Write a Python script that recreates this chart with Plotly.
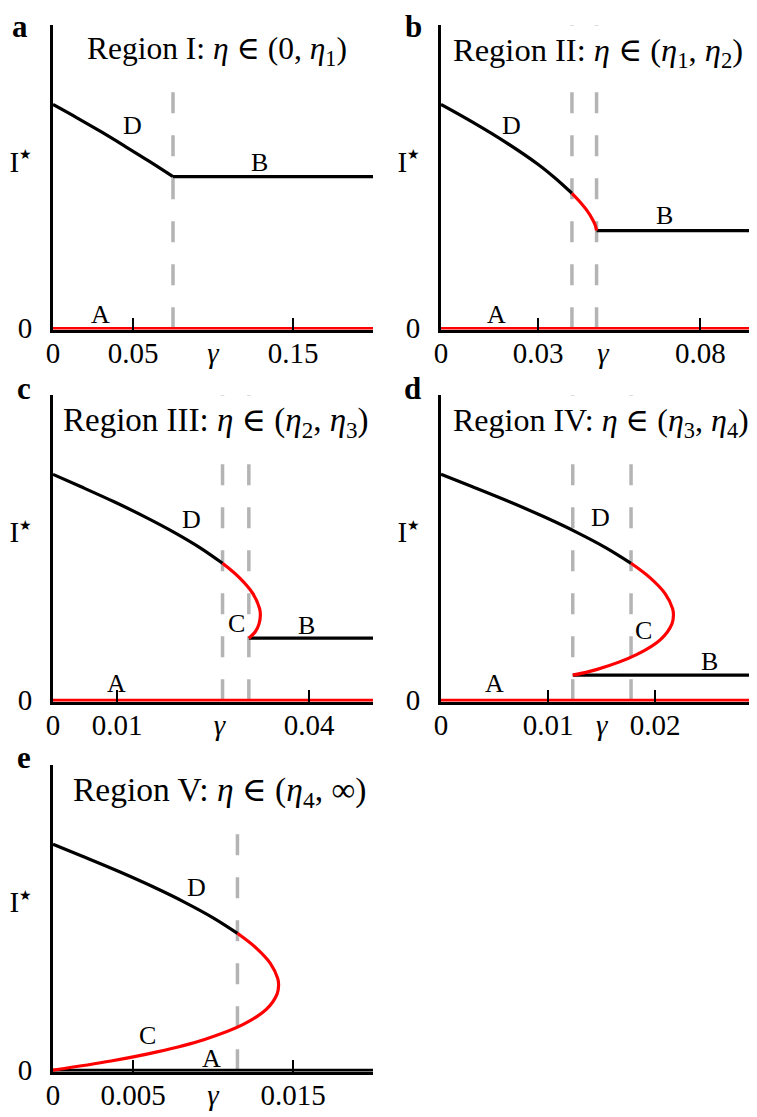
import plotly.graph_objects as go

# ---------------- data ----------------
# Panel a : Region I
a_D_g = [0, 0.015, 0.030, 0.045, 0.060, 0.075]
a_D_I = [0.738, 0.694, 0.648, 0.600, 0.551, 0.500]
a_B_g = [0.075, 0.2]
a_B_I = [0.500, 0.500]
a_A_g = [0, 0.2]
a_A_I = [0, 0]
a_dash = [0.075]

# Panel b : Region II
b_D_g = [0, 0.010, 0.020, 0.030, 0.035, 0.0404]
b_D_I = [0.738, 0.678, 0.613, 0.540, 0.497, 0.445]
b_U_g = [0.0404, 0.0425, 0.0450, 0.0468, 0.0476, 0.0480]
b_U_I = [0.445, 0.421, 0.3885, 0.358, 0.3396, 0.322]
b_B_g = [0.0480, 0.0975]
b_B_I = [0.322, 0.322]
b_A_g = [0, 0.0975]
b_A_I = [0, 0]
b_dash = [0.0404, 0.0480]

# Panel c : Region III
c_D_g = [0, 0.004306, 0.009552, 0.014444, 0.018928, 0.022939, 0.02649]
c_D_I = [0.740, 0.700, 0.650, 0.600, 0.550, 0.500, 0.4485]
c_U_g = [0.02649, 0.029196, 0.031211, 0.03228, 0.0324, 0.032193, 0.03163, 0.0306]
c_U_I = [0.4485, 0.400, 0.350, 0.300, 0.278, 0.250, 0.225, 0.203]
c_B_g = [0.0306, 0.05]
c_B_I = [0.203, 0.203]
c_A_g = [0, 0.05]
c_A_I = [0, 0]
c_dash = [0.02649, 0.0306]

# Panel d : Region IV
d_D_g = [0, 0.002884, 0.006397, 0.009674, 0.012677, 0.015364, 0.017742]
d_D_I = [0.740, 0.700, 0.650, 0.600, 0.550, 0.500, 0.4485]
d_U_g = [0.017742, 0.019554, 0.020904, 0.02162, 0.0217, 0.021561, 0.020541, 0.018304, 0.014506, 0.0123]
d_U_I = [0.4485, 0.400, 0.350, 0.300, 0.278, 0.250, 0.200, 0.150, 0.100, 0.082]
d_B_g = [0.0123, 0.0295]
d_B_I = [0.082, 0.082]
d_A_g = [0, 0.0295]
d_A_I = [0, 0]
d_dash = [0.0123, 0.017742]

# Panel e : Region V
e_D_g = [0, 0.001874, 0.004157, 0.006286, 0.008237, 0.009983, 0.011528]
e_D_I = [0.740, 0.700, 0.650, 0.600, 0.550, 0.500, 0.4485]
e_U_g = [0.011528, 0.012706, 0.013583, 0.014048, 0.0141, 0.01401, 0.013347, 0.011893, 0.009426, 0.006507, 0.003622, 0]
e_U_I = [0.4485, 0.400, 0.350, 0.300, 0.278, 0.250, 0.200, 0.150, 0.100, 0.060, 0.030, 0]
e_A_g = [0, 0.02]
e_A_I = [0, 0]
e_dash = [0.011528]

# tick labels
a_tickvals = [0, 0.05, 0.1, 0.15]
a_ticktext = ["0", "0.05", "<i>γ</i>", "0.15"]
a_tickmarks = [0.05, 0.15]
b_tickvals = [0, 0.03, 0.05, 0.08]
b_ticktext = ["0", "0.03", "<i>γ</i>", "0.08"]
b_tickmarks = [0.03, 0.08]
c_tickvals = [0, 0.01, 0.026, 0.04]
c_ticktext = ["0", "0.01", "<i>γ</i>", "0.04"]
c_tickmarks = [0.01, 0.04]
d_tickvals = [0, 0.01, 0.015, 0.02]
d_ticktext = ["0", "0.01", "<i>γ</i>", "0.02"]
d_tickmarks = [0.01, 0.02]
e_tickvals = [0, 0.005, 0.01, 0.015]
e_ticktext = ["0", "0.005", "<i>γ</i>", "0.015"]
e_tickmarks = [0.005, 0.015]
y_tickvals = [0, 0.55]
y_ticktext = ["0", "I<sup><span style='font-size:14px'>★</span></sup>"]

titles = [
    "Region I: <i>η</i> ∈ (0, <i>η</i><sub>1</sub>)",
    "Region II: <i>η</i> ∈ (<i>η</i><sub>1</sub>, <i>η</i><sub>2</sub>)",
    "Region III: <i>η</i> ∈ (<i>η</i><sub>2</sub>, <i>η</i><sub>3</sub>)",
    "Region IV: <i>η</i> ∈ (<i>η</i><sub>3</sub>, <i>η</i><sub>4</sub>)",
    "Region V: <i>η</i> ∈ (<i>η</i><sub>4</sub>, ∞)",
]
title_sizes = [31.5, 32.5, 33, 32, 33.5]
panel_letters = ["a", "b", "c", "d", "e"]

# branch labels (text, gamma, I)
a_labels = [("D", 0.0495, 0.667), ("B", 0.129, 0.547), ("A", 0.0298, 0.044)]
b_labels = [("D", 0.0216, 0.667), ("B", 0.0689, 0.372), ("A", 0.0170, 0.044)]
c_labels = [("D", 0.0216, 0.593), ("C", 0.0287, 0.251), ("B", 0.0396, 0.245), ("A", 0.0099, 0.055)]
d_labels = [("D", 0.01489, 0.598), ("C", 0.0189, 0.229), ("B", 0.02508, 0.126), ("A", 0.00498, 0.055)]
e_labels = [("D", 0.00899, 0.598), ("C", 0.00588, 0.115), ("A", 0.00992, 0.039)]

# ---------------- layout geometry ----------------
OFF = 8                      # page body margin of the browser
PAGE_W, PAGE_H = 757, 1117
W, H = PAGE_W - OFF, PAGE_H - OFF
FONT = "Liberation Serif, DejaVu Serif, serif"
BLACK = "#000000"
RED = "#ff0000"
GREY = "#b4b4b4"

def fx(px):
    return (px - OFF) / W

def fy(py):
    return 1 - (py - OFF) / H

col_dom = {0: [fx(53), fx(373)], 1: [fx(441), 1.0]}
row_dom = {0: [fy(330), fy(25)], 1: [fy(702), fy(395)], 2: [fy(1072), fy(765)]}

# panel letter positions: (x centre, y, vertical anchor)
panels = [
    dict(row=0, col=0, xr=[0, 0.2], D=(a_D_g, a_D_I), U=None, B=(a_B_g, a_B_I), A=(a_A_g, a_A_I, RED),
         dash=a_dash, tv=a_tickvals, tt=a_ticktext, tm=a_tickmarks, labels=a_labels,
         title_left=86, title_y=51, letter=(20, 8, "top")),
    dict(row=0, col=1, xr=[0, 0.0975], D=(b_D_g, b_D_I), U=(b_U_g, b_U_I), B=(b_B_g, b_B_I), A=(b_A_g, b_A_I, RED),
         dash=b_dash, tv=b_tickvals, tt=b_ticktext, tm=b_tickmarks, labels=b_labels,
         title_left=452, title_y=52, letter=(414, 8, "top")),
    dict(row=1, col=0, xr=[0, 0.05], D=(c_D_g, c_D_I), U=(c_U_g, c_U_I), B=(c_B_g, c_B_I), A=(c_A_g, c_A_I, RED),
         dash=c_dash, tv=c_tickvals, tt=c_ticktext, tm=c_tickmarks, labels=c_labels,
         title_left=62, title_y=422, letter=(24, 388, "middle")),
    dict(row=1, col=1, xr=[0, 0.0295], D=(d_D_g, d_D_I), U=(d_U_g, d_U_I), B=(d_B_g, d_B_I), A=(d_A_g, d_A_I, RED),
         dash=d_dash, tv=d_tickvals, tt=d_ticktext, tm=d_tickmarks, labels=d_labels,
         title_left=452, title_y=422, letter=(412, 388, "middle")),
    dict(row=2, col=0, xr=[0, 0.02], D=(e_D_g, e_D_I), U=(e_U_g, e_U_I), B=None, A=(e_A_g, e_A_I, BLACK),
         dash=e_dash, tv=e_tickvals, tt=e_ticktext, tm=e_tickmarks, labels=e_labels,
         title_left=72, title_y=792, letter=(24, 757, "middle")),
]

fig = go.Figure()
layout = dict(
    width=W, height=H, margin=dict(l=0, r=0, t=0, b=0, autoexpand=False),
    paper_bgcolor="white", plot_bgcolor="white", showlegend=False,
    font=dict(family=FONT, color="black", size=29),
)
annotations = []

for i, p in enumerate(panels):
    n = i + 1
    xa = "x" if n == 1 else f"x{n}"
    ya = "y" if n == 1 else f"y{n}"
    # dashed vertical lines
    for g in p["dash"]:
        fig.add_trace(go.Scatter(x=[g, g], y=[0, 1.0], mode="lines", xaxis=xa, yaxis=ya,
                                 line=dict(color=GREY, width=3.5, dash="21px,22px"), hoverinfo="skip"))
    # branch A
    ag, aI, acol = p["A"]
    fig.add_trace(go.Scatter(x=ag, y=aI, mode="lines", xaxis=xa, yaxis=ya,
                             line=dict(color=acol, width=2.6)))
    # branch B
    if p["B"] is not None:
        fig.add_trace(go.Scatter(x=p["B"][0], y=p["B"][1], mode="lines", xaxis=xa, yaxis=ya,
                                 line=dict(color=BLACK, width=3.2)))
    # stable part of D
    fig.add_trace(go.Scatter(x=p["D"][0], y=p["D"][1], mode="lines", xaxis=xa, yaxis=ya,
                             line=dict(color=BLACK, width=3.2, shape="spline", smoothing=1.0)))
    # unstable part (red)
    if p["U"] is not None:
        fig.add_trace(go.Scatter(x=p["U"][0], y=p["U"][1], mode="lines", xaxis=xa, yaxis=ya,
                                 line=dict(color=RED, width=3.2, shape="spline", smoothing=1.0)))

    xkey = "xaxis" if n == 1 else f"xaxis{n}"
    ykey = "yaxis" if n == 1 else f"yaxis{n}"
    layout[xkey] = dict(
        domain=col_dom[p["col"]], range=p["xr"], anchor=ya, automargin=False,
        showline=True, linewidth=3, linecolor="black", showgrid=False, zeroline=False,
        ticks="", tickmode="array", tickvals=p["tv"], ticktext=p["tt"],
        tickfont=dict(family=FONT, size=29, color="black"), ticklabelstandoff=-5,
        minor=dict(tickmode="array", tickvals=p["tm"], ticks="inside", ticklen=12,
                   tickwidth=2, tickcolor="black", showgrid=False),
        fixedrange=True,
    )
    layout[ykey] = dict(
        domain=row_dom[p["row"]], range=[-0.006, 1.0], anchor=xa, automargin=False,
        showline=True, linewidth=3, linecolor="black", showgrid=False, zeroline=False,
        ticks="", tickmode="array", tickvals=y_tickvals, ticktext=y_ticktext,
        tickfont=dict(family=FONT, size=29, color="black"), ticklabelstandoff=12,
        fixedrange=True,
    )
    # branch labels
    for txt, g, I in p["labels"]:
        annotations.append(dict(text=txt, x=g, y=I, xref=xa, yref=ya, showarrow=False,
                                font=dict(family=FONT, size=26, color="black"),
                                xanchor="center", yanchor="middle"))
    # title
    pad = 6
    annotations.append(dict(text=titles[i], x=fx(p["title_left"] - pad), y=fy(p["title_y"]),
                            xref="paper", yref="paper", xanchor="left", yanchor="middle",
                            showarrow=False, bgcolor="white", borderpad=pad,
                            font=dict(family=FONT, size=title_sizes[i], color="black")))
    # panel letter
    lx, ly, lanchor = p["letter"]
    annotations.append(dict(text="<b>" + panel_letters[i] + "</b>", x=fx(lx), y=fy(ly),
                            xref="paper", yref="paper", xanchor="center", yanchor=lanchor,
                            showarrow=False, borderpad=0,
                            font=dict(family=FONT, size=31, color="black")))

layout["annotations"] = annotations
fig.update_layout(**layout)
fig.write_html("out.html")
